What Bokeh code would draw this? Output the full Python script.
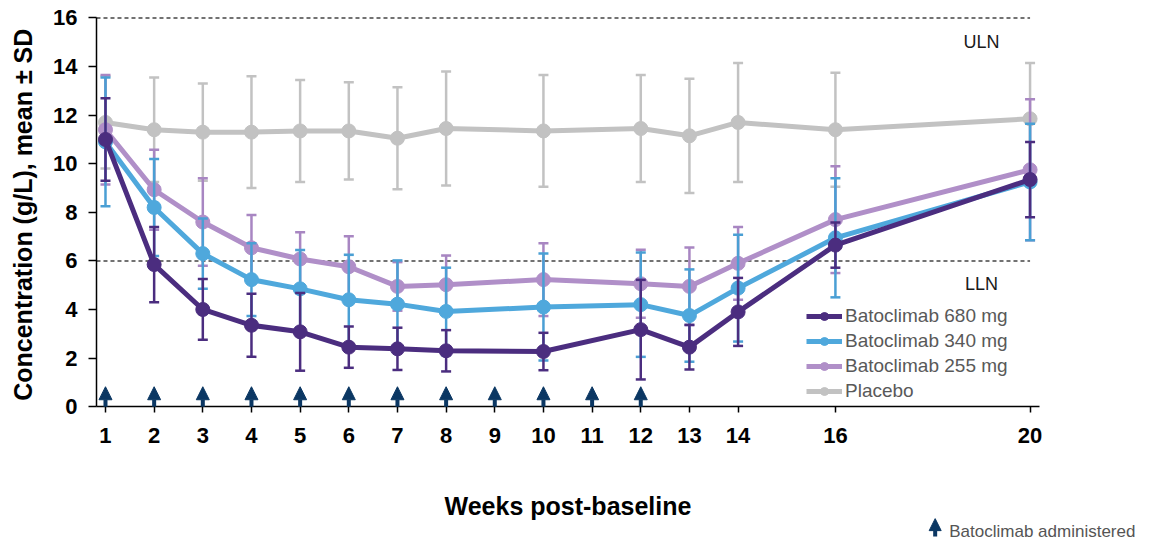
import math
from bokeh.plotting import figure
from bokeh.models import (ColumnDataSource, FixedTicker, Legend, LegendItem, Label,
                          Arrow, NormalHead, Range1d)
from bokeh.embed import file_html
from bokeh.resources import INLINE
from bokeh.core.properties import value

# ---------------- data ----------------
weeks = [1, 2, 3, 4, 5, 6, 7, 8, 10, 12, 13, 14, 16, 20]

placebo_mean = [11.7, 11.4, 11.3, 11.3, 11.35, 11.35, 11.05, 11.45, 11.35, 11.45, 11.15, 11.7, 11.4, 11.85]
placebo_sd = [1.9, 2.15, 2.0, 2.3, 2.1, 2.0, 2.1, 2.35, 2.3, 2.2, 2.35, 2.45, 2.35, 2.3]

b680_mean = [11.0, 5.85, 4.0, 3.35, 3.08, 2.45, 2.38, 2.3, 2.27, 3.17, 2.45, 3.9, 6.65, 9.35]
b680_sd = [1.7, 1.55, 1.25, 1.3, 1.6, 0.85, 0.87, 0.85, 0.77, 2.05, 0.92, 1.4, 0.93, 1.55]

b340_mean = [10.9, 8.2, 6.3, 5.23, 4.85, 4.4, 4.22, 3.92, 4.1, 4.2, 3.75, 4.88, 6.95, 9.25]
b340_sd = [2.65, 2.0, 1.45, 1.5, 1.6, 1.85, 1.8, 1.8, 2.2, 2.15, 1.9, 2.2, 2.45, 2.4]

b255_mean = [11.4, 8.93, 7.6, 6.54, 6.08, 5.76, 4.95, 5.02, 5.23, 5.06, 4.95, 5.9, 7.7, 9.75]
b255_sd = [2.25, 1.65, 1.8, 1.35, 1.1, 1.25, 1.0, 1.2, 1.5, 1.4, 1.6, 1.5, 2.2, 2.9]

dose_weeks = [1, 2, 3, 4, 5, 6, 7, 8, 9, 10, 11, 12]

ULN = 16
LLN = 6

x_ticks = [1, 2, 3, 4, 5, 6, 7, 8, 9, 10, 11, 12, 13, 14, 16, 20]
y_ticks = [0, 2, 4, 6, 8, 10, 12, 14, 16]

series = [
    ("Placebo", placebo_mean, placebo_sd, "#c2c2c2", "#c2c2c2"),
    ("Batoclimab 255 mg", b255_mean, b255_sd, "#b08fc8", "#a886c2"),
    ("Batoclimab 340 mg", b340_mean, b340_sd, "#4fa8dc", "#4a9fd4"),
    ("Batoclimab 680 mg", b680_mean, b680_sd, "#4b2d7f", "#4b2d7f"),
]
legend_order = ["Batoclimab 680 mg", "Batoclimab 340 mg", "Batoclimab 255 mg", "Placebo"]

FONT = "Liberation Sans"
NAVY = "#0b3763"

X_AXIS_BOUNDS = (0.815, 20.2)

# the frame covers the whole canvas; both axes are drawn at fixed data locations inside it
p = figure(width=1141, height=540, output_backend="svg", toolbar_location=None,
           x_range=Range1d(-1.1575, 22.29), y_range=Range1d(-5.51, 16.72),
           min_border_left=0, min_border_right=0, min_border_top=0, min_border_bottom=0)
p.outline_line_color = None
p.xgrid.visible = False
p.ygrid.visible = False
p.background_fill_color = "white"
p.border_fill_color = "white"

# axes
for ax in (p.xaxis[0], p.yaxis[0]):
    ax.axis_line_color = "black"
    ax.axis_line_width = 1.5
    ax.major_tick_line_color = "black"
    ax.major_tick_line_width = 1.5
    ax.major_tick_in = 0
    ax.minor_tick_line_color = None
    ax.major_label_text_font = FONT
    ax.major_label_text_font_style = "bold"
    ax.major_label_text_font_size = "22px"
    ax.major_label_text_color = "black"
    ax.axis_label_text_font = FONT
    ax.axis_label_text_font_style = "bold"
    ax.axis_label_text_color = "black"

p.xaxis.ticker = FixedTicker(ticks=x_ticks)
p.yaxis.ticker = FixedTicker(ticks=y_ticks)
p.xaxis.fixed_location = 0
p.yaxis.fixed_location = X_AXIS_BOUNDS[0]
p.xaxis.bounds = X_AXIS_BOUNDS
p.yaxis.bounds = (y_ticks[0], y_ticks[-1])
p.xaxis.major_tick_out = 6
p.yaxis.major_tick_out = 8
p.xaxis.major_label_standoff = 15
p.yaxis.major_label_standoff = 11
p.xaxis.axis_label = "Weeks post-baseline"
p.xaxis.axis_label_text_font_size = "25px"
p.xaxis.axis_label_standoff = 46

# y-axis title
p.add_layout(Label(x=-0.705, y=7.9, angle=math.pi / 2, text="Concentration (g/L), mean \u00b1 SD",
                   text_font=FONT, text_font_style="bold", text_font_size="25px",
                   text_color="black", text_align="center", text_baseline="middle"))

# reference lines
x_ref = [X_AXIS_BOUNDS[0], weeks[-1]]
p.line(x=x_ref, y=[ULN, ULN], line_color="#444444", line_width=1.5, line_dash="4 3")
p.line(x=x_ref, y=[LLN, LLN], line_color="#444444", line_width=1.5, line_dash="4 3")
p.text(x=[19.0, 19.0], y=[15.0, 5.05], text=["ULN", "LLN"], text_align="center",
       text_baseline="middle", text_font=value(FONT), text_font_size="18px", text_color="#1a1a1a")

# series
items = {}
for name, mean, sd, col, ecol in series:
    upper = [m + s for m, s in zip(mean, sd)]
    lower = [m - s for m, s in zip(mean, sd)]
    src = ColumnDataSource(dict(x=weeks, y=mean, up=upper, lo=lower))
    p.segment(x0="x", y0="lo", x1="x", y1="up", source=src, line_color=ecol, line_width=2.5)
    p.scatter(x="x", y="up", source=src, marker="dash", size=10, line_color=ecol, line_width=2.5)
    p.scatter(x="x", y="lo", source=src, marker="dash", size=10, line_color=ecol, line_width=2.5)
    lr = p.line(x="x", y="y", source=src, line_color=col, line_width=5)
    sr = p.scatter(x="x", y="y", source=src, marker="circle", size=14, fill_color=col, line_color=col)
    items[name] = LegendItem(label=name, renderers=[lr, sr])

legend = Legend(items=[items[n] for n in legend_order], location=(806, 138),
                orientation="vertical", glyph_width=36, glyph_height=20, label_height=20,
                spacing=3, padding=0, margin=0, label_standoff=3,
                label_text_font=FONT, label_text_font_size="19px", label_text_color="#595959",
                border_line_color=None, background_fill_alpha=0)
p.add_layout(legend, "center")

# dosing arrows
dsrc = ColumnDataSource(dict(x=dose_weeks, y0=[0] * len(dose_weeks), y1=[0.82] * len(dose_weeks)))
p.add_layout(Arrow(end=NormalHead(size=13, fill_color=NAVY, line_color=NAVY),
                   x_start="x", y_start="y0", x_end="x", y_end="y1", source=dsrc,
                   line_color=NAVY, line_width=4))

# footnote (below the axis)
p.add_layout(Arrow(end=NormalHead(size=12, fill_color=NAVY, line_color=NAVY),
                   x_start=18.05, y_start=-5.35, x_end=18.05, y_end=-4.61,
                   line_color=NAVY, line_width=4))
p.add_layout(Label(x=18.34, y=-5.14,
                   text="Batoclimab administered", text_font=FONT, text_font_size="17px",
                   text_color="#555555", text_baseline="middle", text_align="left"))

open("out.html", "w").write(file_html(p, INLINE))
